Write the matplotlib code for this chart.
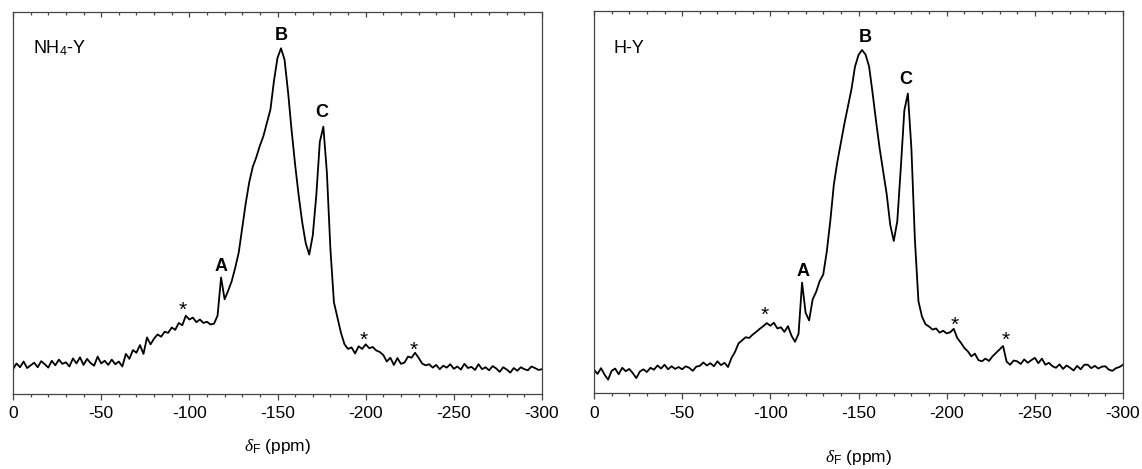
import numpy as np
import matplotlib.pyplot as plt

plt.rcParams['font.family'] = ['Liberation Sans', 'DejaVu Sans']
plt.rcParams['axes.unicode_minus'] = False
plt.rcParams['mathtext.fontset'] = 'custom'
plt.rcParams['mathtext.it'] = 'Liberation Serif:italic'
plt.rcParams['mathtext.rm'] = 'Liberation Sans'

# chemical shift grid (ppm), 2 ppm steps from 0 to -300
shift = np.arange(0, -301, -2)

# intensity (arbitrary units, 0-100 of the plot height)
nh4_y = [
    6.5, 8.0, 7.0, 8.5, 6.8, 7.5, 8.2, 7.0, 8.6, 7.8,
    6.9, 8.7, 7.5, 9.0, 7.9, 8.3, 7.2, 9.3, 8.0, 9.6,
    7.6, 9.2, 8.1, 7.4, 9.8, 8.0, 8.7, 7.6, 9.0, 7.8,
    8.5, 7.2, 10.5, 9.2, 11.5, 10.8, 12.8, 10.5, 14.8, 13.0,
    14.5, 15.6, 15.0, 16.3, 16.0, 17.4, 16.8, 18.6, 18.0, 20.5,
    19.5, 20.0, 18.8, 19.5, 18.6, 18.9, 18.2, 18.4, 20.5, 30.5,
    24.8, 27.0, 29.5, 33.0, 37.0, 43.5, 50.0, 55.5, 59.5, 62.0,
    65.0, 67.5, 71.0, 74.5, 82.0, 88.0, 90.5, 87.5, 79.0, 69.0,
    60.0, 52.0, 45.0, 39.5, 36.5, 41.5, 52.0, 66.0, 70.0, 58.0,
    38.0, 24.0, 20.0, 16.0, 13.0, 11.8, 12.2, 10.6, 12.5, 11.8,
    13.0, 12.0, 12.3, 11.4, 11.0, 10.2, 8.5, 9.5, 7.6, 9.4,
    7.9, 8.2, 9.8, 9.5, 10.8, 9.5, 8.0, 7.5, 7.8, 6.9,
    7.6, 6.5, 7.4, 6.9, 7.8, 6.6, 7.2, 6.4, 7.9, 6.8,
    7.1, 6.3, 7.8, 6.5, 7.0, 6.2, 7.3, 6.7, 5.8, 7.0,
    6.4, 5.6, 6.8, 6.1, 7.0, 6.5, 6.2, 7.2, 6.8, 6.3,
    6.5,
]

h_y = [
    6.1, 5.0, 6.5, 4.8, 3.5, 5.8, 6.4, 4.9, 6.6, 5.7,
    6.3, 5.2, 3.9, 5.6, 6.2, 5.5, 6.6, 6.1, 7.2, 6.4,
    7.4, 6.2, 7.0, 6.3, 6.8, 6.2, 7.0, 6.6, 5.8, 6.9,
    7.1, 8.0, 7.2, 7.8, 7.0, 8.3, 7.3, 7.9, 6.8, 9.2,
    10.8, 13.0, 13.8, 14.6, 14.4, 15.3, 16.0, 16.8, 17.5, 18.3,
    17.6, 18.4, 16.9, 17.2, 16.0, 17.5, 15.0, 13.4, 15.5, 28.9,
    21.0, 19.0, 24.5, 26.5, 29.3, 31.0, 37.0, 45.0, 54.5, 60.5,
    65.5, 70.5, 75.0, 79.5, 85.4, 88.5, 89.8, 88.6, 85.5, 78.5,
    71.0, 64.0, 58.0, 52.0, 44.0, 39.8, 45.0, 59.0, 74.0, 78.4,
    64.0, 40.0, 24.0, 20.0, 18.0, 17.4, 16.6, 16.9, 15.8, 16.3,
    15.6, 15.9, 16.8, 14.4, 13.2, 11.8, 10.9, 9.6, 10.3, 8.6,
    8.3, 9.0, 8.4, 9.6, 10.5, 11.4, 12.3, 8.2, 7.4, 8.5,
    8.3, 7.6, 8.8, 7.9, 8.6, 9.2, 7.8, 9.0, 7.4, 7.9,
    7.0, 6.6, 7.5, 6.3, 7.2, 6.6, 5.9, 7.1, 6.2, 7.4,
    7.4, 6.5, 7.1, 6.4, 6.9, 7.0, 6.1, 5.8, 6.5, 6.8,
    7.4,
]

# peak labels: (text, shift, baseline height)
nh4_peaks = [('A', -118, 32.1), ('B', -152, 92.7), ('C', -175, 72.6)]
h_peaks = [('A', -118.5, 30.5), ('B', -154, 91.8), ('C', -177, 80.8)]
# spinning sidebands (*): (shift, centre height)
nh4_stars = [(-96, 23.8), (-199, 15.9), (-227, 13.5)]
h_stars = [(-97, 22.3), (-204.5, 19.7), (-233.5, 15.8)]

samples = [
    ('NH$_4$-Y', nh4_y, nh4_peaks, nh4_stars),
    ('H-Y', h_y, h_peaks, h_stars),
]

fig = plt.figure(figsize=(11.42, 4.69), dpi=100)
W, H = 1142, 469
boxes = [(13, 12, 542, 394), (594, 11, 1123, 393)]
label_y = [446, 457]

for (name, y, peaks, stars), box, ly in zip(samples, boxes, label_y):
    x0, y0, x1, y1 = box
    ax = fig.add_axes([x0 / W, 1 - y1 / H, (x1 - x0) / W, (y1 - y0) / H])
    ax.plot(shift, y, color='black', lw=1.3)
    ax.set_xlim(0, -300)
    ax.set_ylim(0, 100)
    ax.set_yticks([])
    for sp in ax.spines.values():
        sp.set_color('#444444')
        sp.set_linewidth(0.9)

    ax.set_xticks(np.arange(0, -301, -50))
    ax.set_xticks(np.arange(0, -301, -10), minor=True)
    ax.tick_params(axis='x', which='major', direction='out', length=4,
                   width=0.9, color='#444444', labelsize=12.5, pad=5)
    ax.tick_params(axis='x', which='minor', direction='out', length=2.4,
                   width=0.9, color='#444444')

    top = ax.secondary_xaxis('top')
    top.set_xticks(np.arange(0, -301, -50))
    top.set_xticks(np.arange(0, -301, -10), minor=True)
    top.tick_params(axis='x', which='major', direction='in', length=3.5,
                    width=0.9, color='#444444', labeltop=False)
    top.tick_params(axis='x', which='minor', direction='in', length=2.4,
                    width=0.9, color='#444444')
    top.spines['top'].set_visible(False)

    ax.text(-11.3, 89.1, name, fontsize=13, ha='left', va='baseline')
    for lab, px, py in peaks:
        ax.text(px, py, lab, fontsize=13, fontweight='bold',
                ha='center', va='baseline')
    for px, py in stars:
        ax.text(px, py - 3.4, '*', fontsize=15, ha='center', va='baseline')

    fig.text((x0 + x1) / 2 / W, 1 - ly / H, r'$\delta_\mathrm{F}$ (ppm)',
             fontsize=12.5, ha='center', va='center')

fig.savefig('out.png', dpi=100)
